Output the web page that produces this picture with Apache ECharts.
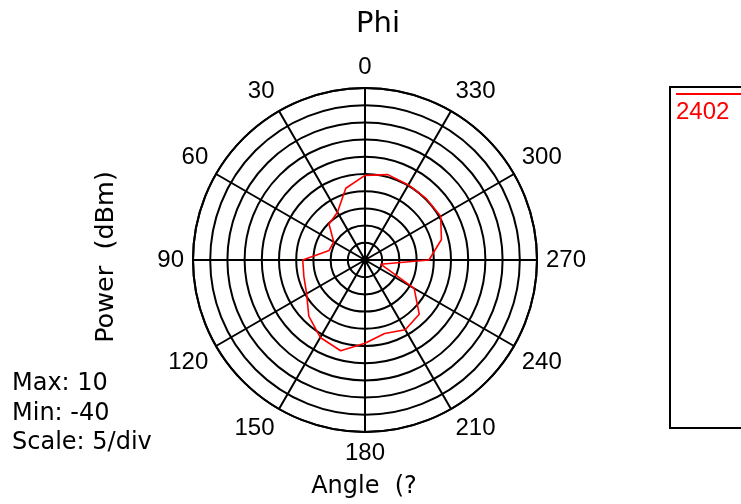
<!DOCTYPE html>
<html>
<head>
<meta charset="utf-8">
<script src="https://cdn.jsdelivr.net/npm/echarts@6/dist/echarts.min.js"></script>
<style>
  html, body { margin: 0; padding: 0; background: #fff; }
  #chart { width: 741px; height: 504px; }
</style>
</head>
<body>
<div id="chart"></div>
<script>
// trace 2402, one point every 15 degrees
const angles = [0, 15, 30, 45, 60, 75, 90, 105, 120, 135, 150, 165,
  180, 195, 210, 225, 240, 255, 270, 285, 300, 315, 330, 345];
const power = [-15.4, -18.4, -24.0, -25.2, -29.5, -29.2, -21.9, -21.6, -20.4, -16.9, -14.0, -12.7,
  -15.8, -17.9, -16.6, -17.7, -23.5, -35.3, -21.4, -17.0, -14.6, -14.8, -14.8, -14.3];
const seriesName = "2402";
const infoLines = ["Max: 10", "Min: -40", "Scale: 5/div"];

const font = "Liberation Sans, Arial, sans-serif";
const wide = "DejaVu Sans, sans-serif"; // the reference text is spaced out
const chart = echarts.init(document.getElementById("chart"));

// close the loop back to the first point
const traceData = angles.map((a, i) => [power[i], a]);
traceData.push([power[0], 360]);

chart.setOption({
  animation: false,
  textStyle: { fontFamily: font },
  title: {
    text: "Phi",
    left: 373,
    top: 5,
    textAlign: "center",
    textStyle: { fontSize: 29, fontWeight: "normal", color: "#000", fontFamily: wide }
  },
  polar: { center: [365, 260], radius: 172 },
  angleAxis: {
    type: "value",
    min: 0,
    max: 360,
    interval: 30,
    startAngle: 90,
    clockwise: false,
    axisLine: { lineStyle: { color: "#000", width: 2 } },
    axisTick: { show: false },
    axisLabel: { fontSize: 24, color: "#000", margin: 9, fontFamily: font },
    splitLine: { show: true, lineStyle: { color: "#000", width: 2 } }
  },
  radiusAxis: {
    type: "value",
    min: -40,
    max: 10,
    interval: 5,
    axisLine: { show: false },
    axisTick: { show: false },
    axisLabel: { show: false },
    splitLine: { show: true, lineStyle: { color: "#000", width: 2 } }
  },
  series: [{
    name: seriesName,
    type: "line",
    coordinateSystem: "polar",
    data: traceData,
    symbol: "none",
    lineStyle: { color: "#ff0000", width: 1.6 }
  }],
  graphic: [
    {
      type: "text", x: 106, y: 257, rotation: Math.PI / 2,
      style: { text: "Power  (dBm)", font: "25.5px " + wide, fill: "#000", align: "center", verticalAlign: "middle" }
    },
    {
      type: "text", x: 364, y: 487,
      style: { text: "Angle  (?", font: "24px " + wide, fill: "#000", align: "center", verticalAlign: "middle" }
    },
    ...infoLines.map((t, i) => ({
      type: "text", x: 12, y: 384 + i * 29.5,
      style: { text: t, font: "24px " + wide, fill: "#000", align: "left", verticalAlign: "middle" }
    })),
    {
      type: "rect", shape: { x: 670, y: 87, width: 100, height: 341 },
      style: { fill: "#fff", stroke: "#000", lineWidth: 2 }
    },
    {
      type: "line", shape: { x1: 676, y1: 94, x2: 745, y2: 94 },
      style: { stroke: "#ff0000", lineWidth: 2 }
    },
    {
      type: "text", x: 676, y: 112,
      style: { text: seriesName, font: "24px " + font, fill: "#ff0000", align: "left", verticalAlign: "middle" }
    }
  ]
});
</script>
</body>
</html>
